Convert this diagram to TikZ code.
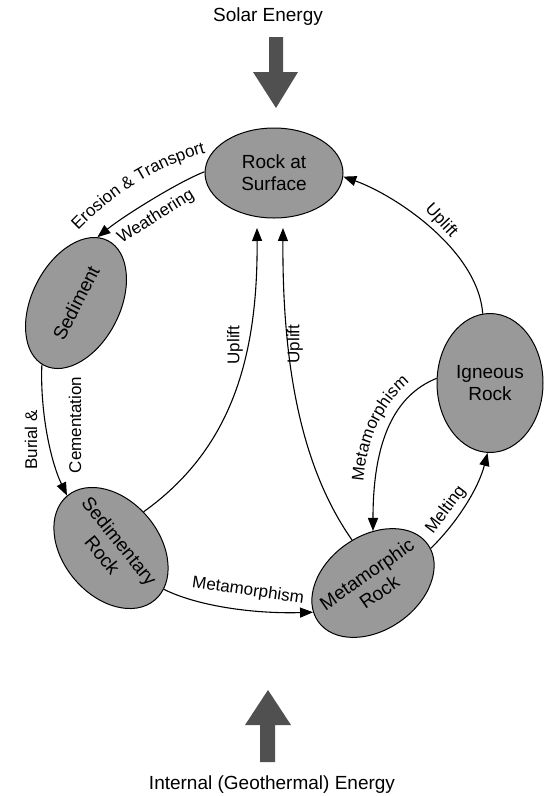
\documentclass[tikz,border=0pt]{standalone}
\usepackage{fontspec}
\setmainfont{Liberation Sans}
\usetikzlibrary{shapes.geometric,arrows.meta,decorations.text}
\definecolor{rockgray}{RGB}{153,153,153}
\definecolor{energy}{RGB}{80,80,80}
\begin{document}
\begin{tikzpicture}[x=1pt,y=-1pt,
  rock/.style={ellipse, draw=black, line width=1pt, fill=rockgray, inner sep=0pt},
  rocktext/.style={font=\fontsize{19pt}{22pt}\selectfont, align=center, inner sep=0pt},
  titletext/.style={font=\fontsize{19pt}{22pt}\selectfont, inner sep=0pt},
  lbl/.style={font=\fontsize{17pt}{20pt}\selectfont, inner sep=0pt},
  conn/.style={line width=1.1pt, -{Triangle[length=13pt,width=10pt]}}
]
\useasboundingbox (0,0) rectangle (544,796);

% energy arrows
\fill[energy] (269,37) -- (283,37) -- (283,72) -- (298,72) -- (276,108) -- (253,72) -- (269,72) -- cycle;
\fill[energy] (260,762) -- (275,762) -- (275,725) -- (291,725) -- (268,690) -- (245,725) -- (260,725) -- cycle;
\node[titletext] (solar) at (268,17) {Solar Energy};
\node[titletext] (internal) at (272,785) {Internal (Geothermal) Energy};

% rocks
\node[rock, minimum width=138pt, minimum height=90pt] (ras) at (274,173) {};
\node[rocktext] (rastxt) at (ras) {Rock at\\Surface};
\node[rock, minimum width=106pt, minimum height=139pt] (ign) at (490,383) {};
\node[rocktext] (igntxt) at (ign) {Igneous\\Rock};
\node[rock, rotate=63, minimum width=140pt, minimum height=88pt] (sed) at (76,303) {};
\node[rocktext, rotate=63] (sedtxt) at (sed) {Sediment};
\node[rock, rotate=-50, minimum width=136pt, minimum height=96pt] (sr) at (111,548) {};
\node[rocktext, rotate=-51] (srtxt) at (sr) {Sedimentary\\Rock};
\node[rock, rotate=35, minimum width=134pt, minimum height=94pt] (met) at (373,583) {};
\node[rocktext, rotate=35] (mettxt) at (met) {Metamorphic\\Rock};

\coordinate (up1) at (257,228);
\coordinate (up2) at (283,228);

% connectors
\draw[conn] (ras.179) .. controls (180,181) and (125,215) .. (sed.9);
\draw[conn] (sed.178) .. controls (40,410) and (50,460) .. (sr.180);
\draw[conn] (sr.98) .. controls (230,450) and (258,360) .. (up1);
\draw[conn] (met.81) .. controls (310,480) and (282,390) .. (up2);
\draw[conn] (ign.96) .. controls (478,250) and (395,195) .. (ras.357);
\draw[conn] (ign.175) .. controls (395,395) and (373,440) .. (met.55);
\draw[conn] (met.-4) .. controls (455,525) and (478,490) .. (ign.268);
\draw[conn] (sr.12) .. controls (195,605) and (250,614) .. (met.171);

% labels
\path[decorate, decoration={text along path, text align=center,
  text={|\fontsize{17pt}{20pt}\selectfont|Erosion {\&} Transport}}]
  (64,246) .. controls (100,205) and (150,163) .. (226,148);
\node[lbl, rotate=32] (weath) at (156,217) {Weathering};
\node[lbl, rotate=90] (uplbla) at (235,345) {Uplift};
\node[lbl, rotate=90] (uplblb) at (295,344) {Uplift};
\node[lbl, rotate=-47] (uplblc) at (441,221) {Uplift};
\node[lbl, rotate=90] (burial) at (31,440) {Burial \&};
\node[lbl, rotate=90] (cement) at (75,425) {Cementation};
\node[lbl, rotate=53] (melt) at (446,510) {Melting};
\node[lbl, rotate=-8] (metlbl) at (248,591) {Metamorphism};
\path[decorate, decoration={text along path, text align=center,
  text={|\fontsize{17pt}{20pt}\selectfont|Metamorphism}}]
  (363,500) .. controls (362,440) and (385,395) .. (425,372);
\end{tikzpicture}
\end{document}
